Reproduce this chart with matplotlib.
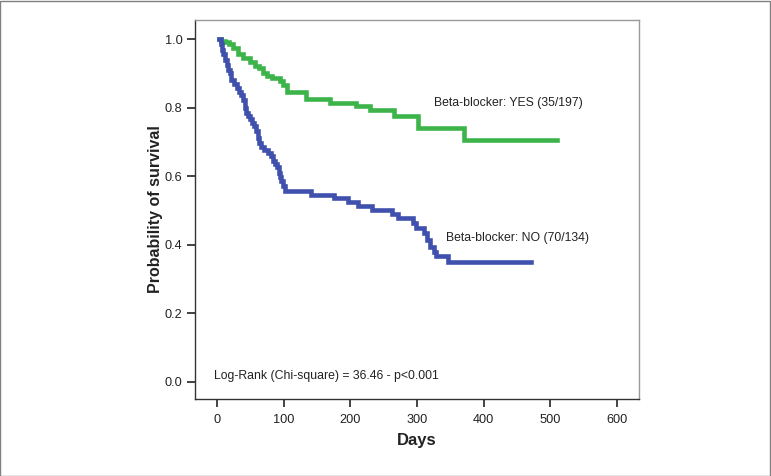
import numpy as np
import matplotlib
matplotlib.use("Agg")
import matplotlib.pyplot as plt
from matplotlib.patches import Rectangle

plt.rcParams['font.family'] = ['Liberation Sans', 'DejaVu Sans']

# Kaplan-Meier steps (days, survival after the step)
yes_days = [3, 6, 12, 17, 24, 31, 39, 49, 56, 62, 69, 74, 82, 94, 99, 104,
            134, 169, 208, 230, 265, 302, 371, 511]
yes_surv = [1.0, 0.995, 0.99, 0.985, 0.973, 0.955, 0.944, 0.934, 0.922, 0.914,
            0.90, 0.892, 0.885, 0.878, 0.866, 0.846, 0.825, 0.812, 0.803, 0.793,
            0.775, 0.741, 0.705, 0.705]

no_days = [3, 5, 7, 9, 11, 14, 16, 19, 21, 25, 29, 33, 36, 38, 41, 43, 46, 49,
           52, 55, 58, 61, 63, 66, 70, 76, 80, 84, 87, 90, 92, 94, 96, 98, 101,
           141, 176, 197, 212, 232, 263, 272, 294, 299, 311, 315, 319, 325, 329,
           347, 472]
no_surv = [1.0, 0.985, 0.968, 0.955, 0.94, 0.925, 0.91, 0.90, 0.88, 0.87,
           0.856, 0.846, 0.836, 0.822, 0.80, 0.785, 0.775, 0.765, 0.754, 0.745,
           0.73, 0.71, 0.695, 0.686, 0.676, 0.666, 0.657, 0.645, 0.635, 0.625,
           0.61, 0.598, 0.584, 0.57, 0.555, 0.545, 0.535, 0.523, 0.511, 0.501,
           0.489, 0.477, 0.462, 0.447, 0.435, 0.413, 0.394, 0.379, 0.365, 0.35,
           0.35]

x_ticks = [0, 100, 200, 300, 400, 500, 600]
y_ticks = [0.0, 0.2, 0.4, 0.6, 0.8, 1.0]

fig = plt.figure(figsize=(7.71, 4.76), dpi=100)
ax = fig.add_axes([0.2529, 0.1618, 0.5759, 0.7962])

ax.step(yes_days, yes_surv, where='post', color='#3cb44a', lw=3.3,
        solid_joinstyle='miter')
ax.step(no_days, no_surv, where='post', color='#3f51ad', lw=3.3,
        solid_joinstyle='miter')

ax.set_xlim(-33.5, 633.5)
ax.set_ylim(-0.051, 1.0555)
ax.set_xticks(x_ticks)
ax.set_yticks(y_ticks)
ax.set_yticklabels(["%.1f" % v for v in y_ticks])
ax.tick_params(direction='out', length=6, width=1.2, color='#222222',
               labelsize=9.2, labelcolor='#222222', pad=3)
ax.tick_params(axis='x', pad=5)

for side in ['left', 'bottom']:
    ax.spines[side].set_color('#333333')
    ax.spines[side].set_linewidth(1.0)
for side in ['top', 'right']:
    ax.spines[side].set_color('#999999')
    ax.spines[side].set_linewidth(1.0)

ax.set_xlabel("Days", fontsize=12, fontweight='bold', color='#222222',
              labelpad=5)
ax.set_ylabel("Probability of survival", fontsize=11.5, fontweight='bold',
              color='#222222', labelpad=1)

ax.text(325, 0.814, "Beta-blocker: YES (35/197)", fontsize=8.8, color='#222222',
        va='center', ha='left')
ax.text(344, 0.419, "Beta-blocker: NO (70/134)", fontsize=8.8, color='#222222',
        va='center', ha='left')
ax.text(-5, 0.0175, "Log-Rank (Chi-square) = 36.46 - p<0.001", fontsize=8.8,
        color='#222222', va='center', ha='left')

# thin grey frame round the whole picture
fig.patches.append(Rectangle((0.0006, 0.001), 0.9985, 0.997, transform=fig.transFigure,
                             fill=False, edgecolor='#808080', lw=1.0))

fig.savefig("out.png", dpi=100)
